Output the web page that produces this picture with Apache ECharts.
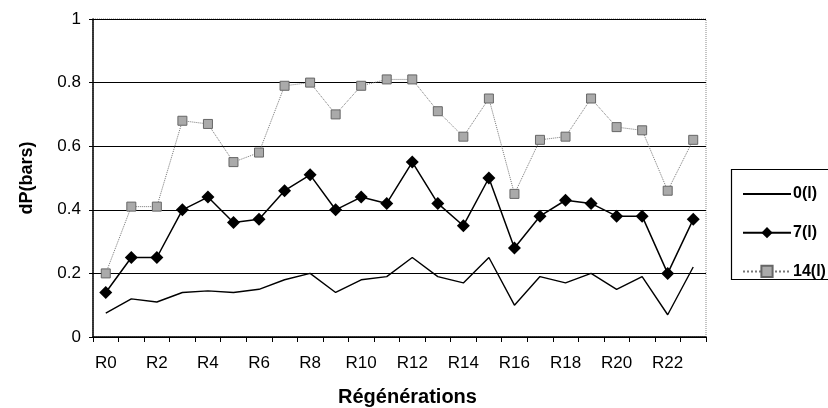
<!DOCTYPE html>
<html>
<head>
<meta charset="utf-8">
<script src="https://cdn.jsdelivr.net/npm/echarts@6/dist/echarts.min.js"></script>
<style>
  html, body { margin: 0; padding: 0; background: #fff; }
  #chart { width: 828px; height: 408px; }
</style>
</head>
<body>
<div id="chart"></div>
<script>
// Regeneration cycles R0..R23
const categories = ['R0','R1','R2','R3','R4','R5','R6','R7','R8','R9','R10','R11',
  'R12','R13','R14','R15','R16','R17','R18','R19','R20','R21','R22','R23'];

// Pressure drop dP (bars) per cycle
const dp0 = [0.075,0.12,0.11,0.14,0.145,0.14,0.15,0.18,0.20,0.14,0.18,0.19,
  0.25,0.19,0.17,0.25,0.10,0.19,0.17,0.20,0.15,0.19,0.07,0.22];
const dp7 = [0.14,0.25,0.25,0.40,0.44,0.36,0.37,0.46,0.51,0.40,0.44,0.42,
  0.55,0.42,0.35,0.50,0.28,0.38,0.43,0.42,0.38,0.38,0.20,0.37];
const dp14 = [0.20,0.41,0.41,0.68,0.67,0.55,0.58,0.79,0.80,0.70,0.79,0.81,
  0.81,0.71,0.63,0.75,0.45,0.62,0.63,0.75,0.66,0.65,0.46,0.62];

const seriesNames = ['0(l)', '7(l)', '14(l)'];
const yTicks = [0, 0.2, 0.4, 0.6, 0.8, 1];

const FONT = '"Liberation Sans", Arial, Helvetica, sans-serif';
const chart = echarts.init(document.getElementById('chart'));

chart.setOption({
  animation: false,
  backgroundColor: '#fff',
  textStyle: { fontFamily: FONT },
  grid: {
    left: 93, right: 122, top: 19, bottom: 71,
    containLabel: false, outerBoundsMode: 'none',
    show: true, borderColor: '#888', borderWidth: 1, borderType: 'dotted'
  },
  graphic: [{
    type: 'rect', silent: true, z: 0,
    shape: { x: 731.5, y: 169.5, width: 110, height: 110 },
    style: { fill: '#fff', stroke: '#000', lineWidth: 1.2 }
  }],
  legend: {
    orient: 'vertical', left: 737, top: 181,
    itemWidth: 48, itemHeight: 14, itemGap: 22.7,
    data: [
      { name: seriesNames[0], itemStyle: { opacity: 0 } },
      { name: seriesNames[1] },
      { name: seriesNames[2] }
    ],
    textStyle: { fontFamily: FONT, fontSize: 16, fontWeight: 'bold', color: '#000', padding: [0, 0, 0, -3] }
  },
  xAxis: {
    type: 'category', data: categories, boundaryGap: true,
    name: 'Régénérations', nameLocation: 'middle', nameGap: 50,
    nameTextStyle: { fontFamily: FONT, fontSize: 20, fontWeight: 'bold', color: '#000', padding: [0, 0, 0, 16] },
    axisLine: { lineStyle: { color: '#000', width: 1.5 } },
    axisTick: { show: true, alignWithLabel: false, interval: 0, length: 5, lineStyle: { color: '#000' } },
    axisLabel: { interval: 1, margin: 18, fontSize: 17, color: '#000', fontFamily: FONT },
    splitLine: { show: false }
  },
  yAxis: {
    type: 'value', min: 0, max: 1, interval: 0.2,
    name: 'dP(bars)', nameLocation: 'middle', nameGap: 57,
    nameTextStyle: { fontFamily: FONT, fontSize: 18, fontWeight: 'bold', color: '#000' },
    axisLine: { show: true, lineStyle: { color: '#000', width: 1.5 } },
    axisTick: { show: true, length: 4, lineStyle: { color: '#000' } },
    axisLabel: {
      margin: 12, fontSize: 17, color: '#000', fontFamily: FONT,
      formatter: v => (yTicks.includes(Math.round(v * 10) / 10) ? String(Math.round(v * 10) / 10) : '')
    },
    splitLine: { show: true, lineStyle: { color: '#000', width: 1.2 } }
  },
  series: [
    {
      name: seriesNames[0], type: 'line', data: dp0,
      symbol: 'none', z: 3,
      lineStyle: { color: '#000', width: 1.4 },
      itemStyle: { color: '#000' }
    },
    {
      name: seriesNames[1], type: 'line', data: dp7,
      symbol: 'diamond', symbolSize: 13, z: 4,
      lineStyle: { color: '#000', width: 1.5 },
      itemStyle: { color: '#000' }
    },
    {
      name: seriesNames[2], type: 'line', data: dp14,
      symbol: 'rect', symbolSize: 9, z: 2,
      lineStyle: { color: '#777', width: 1, type: 'dotted' },
      itemStyle: { color: '#aaa', borderColor: '#666', borderWidth: 1 }
    }
  ]
});
</script>
</body>
</html>
